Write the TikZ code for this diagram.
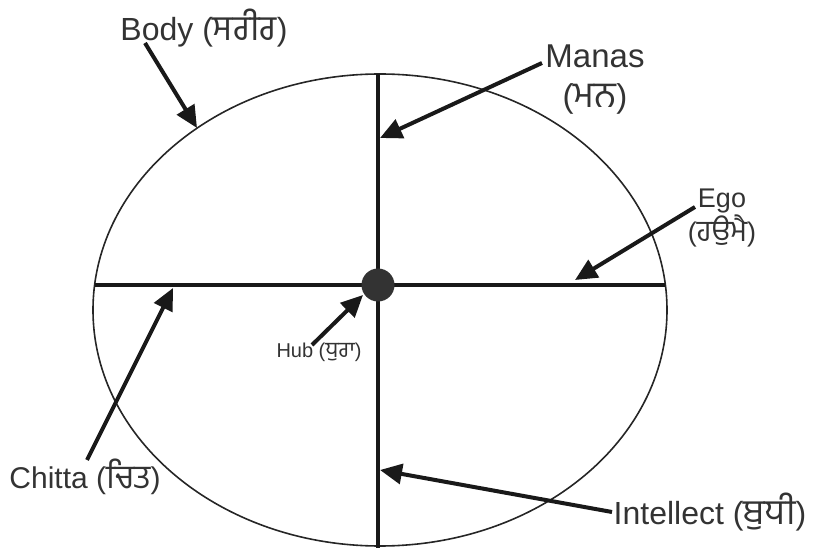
\documentclass[tikz,border=0pt]{standalone}
\usepackage{fontspec}
\setmainfont{Liberation Sans}
\newfontfamily\gur[Script=Gurmukhi,Scale=1.1]{Hind Jalandhar}
\usetikzlibrary{arrows.meta}
\begin{document}
\begin{tikzpicture}[x=1pt,y=-1pt,
  lab/.style={text=black!80, inner sep=0pt},
  ptr/.style={line width=4pt, draw=black!90, -{Triangle[length=22pt,width=20pt]}},
  axisline/.style={line width=3.5pt, draw=black!90},
]
\useasboundingbox (0,0) rectangle (815,548);
\draw[line width=1.6pt, black!85] (380,310) ellipse [x radius=287pt, y radius=236pt];
\coordinate (vtop) at (378,74); \coordinate (vbot) at (378,548);
\coordinate (hl) at (95,285); \coordinate (hr) at (665,285);
\draw[axisline] (vtop) -- (vbot);
\draw[axisline] (hl) -- (hr);
\node[circle, fill=black!80, minimum size=33pt, inner sep=0pt] (hub) at (378,285) {};

\node[lab, font=\fontsize{32}{38}\selectfont] (body) at (204,28) {Body ({\gur ਸਰੀਰ})};
\node[lab, align=center, font=\fontsize{33}{40}\selectfont] (manas) at (595,80) {Manas\\({\gur ਮਨ})};
\node[lab, align=center, font=\fontsize{27}{23}\selectfont] (ego) at (722,218) {Ego\\({\gur ਹਉਮੈ})};
\node[lab, font=\fontsize{20}{24}\selectfont] (hublab) at (319,352) {Hub ({\gur ਧੁਰਾ})};
\node[lab, font=\fontsize{30}{36}\selectfont] (chitta) at (85,477) {Chitta ({\gur ਚਿਤ})};
\node[lab, font=\fontsize{32}{38}\selectfont] (intellect) at (710,512) {Intellect ({\gur ਬੁਧੀ})};

\coordinate (bodyS) at (145,43); \coordinate (bodyT) at (197,128);
\coordinate (manasS) at (542,63); \coordinate (manasT) at (380,138);
\coordinate (egoS) at (695,207); \coordinate (egoT) at (575,280);
\coordinate (hubS) at (312,345); \coordinate (hubT) at (363,295);
\coordinate (chittaS) at (87,460); \coordinate (chittaT) at (173,288);
\coordinate (intS) at (612,512); \coordinate (intT) at (380,470);
\draw[ptr] (bodyS) -- (bodyT);
\draw[ptr] (manasS) -- (manasT);
\draw[ptr] (egoS) -- (egoT);
\draw[ptr] (hubS) -- (hubT);
\draw[ptr] (chittaS) -- (chittaT);
\draw[ptr] (intS) -- (intT);
\end{tikzpicture}
\end{document}
